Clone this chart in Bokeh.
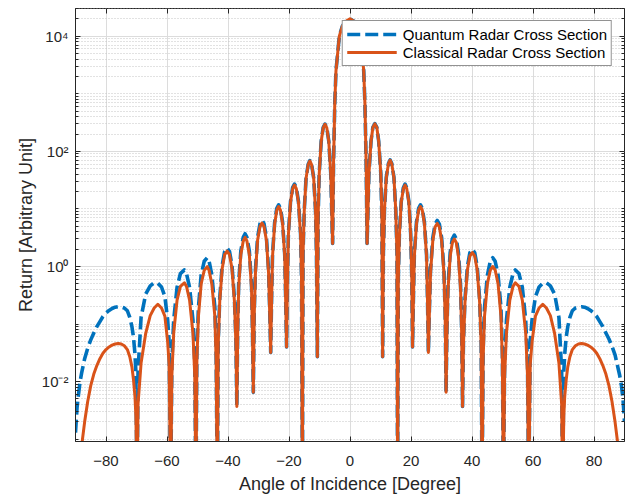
from bokeh.plotting import figure
from bokeh.models import (Range1d, FixedTicker, LinearAxis, LogAxis, Legend,
                          LegendItem, CustomJSTickFormatter)
from bokeh.embed import file_html
from bokeh.resources import INLINE

# ---------------- data ----------------
angle_deg = [
    -90.0, -89.5, -89.1, -88.5, -88.0, -87.0, -86.0, -85.0, -84.0, -83.0, -82.0, -81.0, -80.0,
    -79.0, -78.0, -77.0, -76.0, -75.0, -74.0, -73.0, -72.2, -71.5, -71.0, -70.5, -70.2, -69.8,
    -69.5, -68.5, -67.0, -65.5, -64.2, -63.0, -61.8, -60.7, -59.8, -59.3, -58.8,
    -58.4, -57.8, -56.7, -55.6, -54.3, -53.6, -52.6, -51.5, -50.9, -50.5,
    -50.2, -49.7, -48.8, -47.8, -46.8, -46.2, -45.3, -44.3, -43.9, -43.5,
    -43.2, -42.7, -41.9, -41.1, -40.3, -39.5, -38.7, -37.9, -37.4, -37.1,
    -36.8, -36.5, -35.8, -35.0, -34.4, -33.8, -33.0, -32.3, -32.0, -31.7,
    -31.4, -31.0, -30.3, -29.5, -28.85, -28.2, -27.4, -26.7, -26.3, -26.0,
    -25.7, -25.4, -24.7, -24.0, -23.4, -22.8, -22.1, -21.4, -21.1, -20.8,
    -20.5, -20.2, -19.5, -18.8, -18.2, -17.6, -16.9, -16.2, -15.9, -15.6,
    -15.4, -15.0, -14.4, -13.7, -13.15, -12.6, -11.9, -11.3, -11.0, -10.7,
    -10.45, -10.1, -9.45, -8.8, -8.2, -7.6, -6.95, -6.3, -5.95, -5.7,
    -5.4, -5.0, -4.6, -3.5, -2.5, -1.5, 0.0, 1.5, 2.5, 3.5, 4.5, 4.9, 5.3, 5.6,
    5.85, 6.2, 6.9, 7.5, 8.15, 8.8, 9.4, 10.1, 10.45, 10.7,
    10.95, 11.3, 11.9, 12.6, 13.15, 13.7, 14.4, 15.0, 15.4, 15.6,
    15.85, 16.2, 16.8, 17.5, 18.05, 18.6, 19.3, 19.9, 20.25, 20.5,
    20.8, 21.1, 21.8, 22.5, 23.1, 23.7, 24.4, 25.1, 25.4, 25.7,
    26.0, 26.4, 27.15, 27.9, 28.6, 29.3, 30.05, 30.8, 31.2, 31.5,
    31.8, 32.15, 32.85, 33.55, 34.2, 34.85, 35.55, 36.25, 36.6, 36.9,
    37.2, 37.7, 38.5, 39.3, 40.1, 40.9, 41.7, 42.5, 43.0, 43.3,
    43.65, 44.1, 45.05, 46.0, 46.8, 47.6, 48.55, 49.5, 49.95, 50.3,
    50.7, 51.3, 52.4, 53.45, 54.2, 55.4, 56.5, 57.6, 58.2, 58.6,
    59.1, 59.7, 60.8, 62.0, 63.2, 64.4, 65.7, 67.1, 68.5, 69.4, 69.7,
    70.1, 70.4, 70.9, 71.4, 72.1, 72.9, 73.9, 74.9, 75.9, 76.9, 77.9, 78.9,
    79.9, 80.9, 81.9, 82.9, 83.9, 84.9, 85.9, 86.9, 87.9, 88.4, 89.0, 89.5, 90.0,
]

classical_rcs = [
    1e-5, 5e-5, 1.5e-4, 4e-4, 7.5e-4, 0.002, 0.0045, 0.0085, 0.0135, 0.019, 0.025, 0.031, 0.036,
    0.040, 0.043, 0.045, 0.046, 0.045, 0.042, 0.036, 0.027, 0.018, 0.011, 0.0055, 0.0025, 1e-4,
    0.004, 0.021, 0.068, 0.14, 0.19, 0.22, 0.19, 0.137, 0.05, 0.02, 1e-4,
    0.0127, 0.0705, 0.26, 0.45, 0.52, 0.45, 0.26, 0.0705, 0.0127, 1e-4,
    0.0243, 0.134, 0.495, 0.856, 0.99, 0.856, 0.495, 0.134, 0.0243, 1e-4,
    0.0453, 0.251, 0.925, 1.6, 1.85, 1.6, 0.925, 0.251, 0.0453, 0.0037,
    0.078, 0.434, 1.6, 2.77, 3.2, 2.77, 1.6, 0.434, 0.078, 0.0065,
    0.14, 0.772, 2.85, 4.93, 5.7, 4.93, 2.85, 0.772, 0.14, 0.032,
    0.27, 1.49, 5.5, 9.5, 11.0, 9.5, 5.5, 1.49, 0.27, 0.04,
    0.637, 3.52, 13.0, 22.5, 26.0, 22.5, 13.0, 3.52, 0.637, 1e-4,
    1.67, 9.2, 34.0, 58.8, 68.0, 58.8, 34.0, 9.2, 1.67, 0.027,
    7.2, 40.0, 148.0, 255.0, 295.0, 255.0, 148.0, 40.0, 7.2, 2.5,
    60.0, 660.0, 2500.0, 1.0e4, 1.5e4, 1.8e4, 2.0e4, 1.8e4, 1.5e4, 1.0e4, 2500.0, 660.0, 60.0, 2.5,
    7.35, 40.7, 150.0, 260.0, 300.0, 260.0, 150.0, 40.7, 7.35, 0.027,
    1.72, 9.5, 35.0, 60.5, 70.0, 60.5, 35.0, 9.5, 1.72, 1e-4,
    0.637, 3.52, 13.0, 22.5, 26.0, 22.5, 13.0, 3.52, 0.637, 0.04,
    0.27, 1.49, 5.5, 9.5, 11.0, 9.5, 5.5, 1.49, 0.27, 0.032,
    0.137, 0.759, 2.8, 4.84, 5.6, 4.84, 2.8, 0.759, 0.137, 0.0065,
    0.0735, 0.407, 1.5, 2.6, 3.0, 2.6, 1.5, 0.407, 0.0735, 0.0037,
    0.0429, 0.237, 0.875, 1.51, 1.75, 1.51, 0.875, 0.237, 0.0429, 1e-4,
    0.0245, 0.1355, 0.5, 0.865, 1.0, 0.865, 0.5, 0.1355, 0.0245, 1e-4,
    0.0127, 0.0705, 0.26, 0.45, 0.52, 0.45, 0.26, 0.0705, 0.0127, 1e-4,
    0.02, 0.05, 0.137, 0.19, 0.22, 0.19, 0.14, 0.068, 0.021, 0.004, 1e-4,
    0.0025, 0.0055, 0.011, 0.018, 0.027, 0.036, 0.042, 0.045, 0.046, 0.045, 0.043, 0.040,
    0.036, 0.031, 0.025, 0.019, 0.0135, 0.0085, 0.0045, 0.002, 7.5e-4, 4e-4, 1.5e-4, 5e-5, 1e-5,
]

quantum_rcs = [
    1.3e-3, 3.5e-3, 5.5e-3, 0.010, 0.014, 0.025, 0.038, 0.053, 0.07, 0.09, 0.11, 0.135, 0.155,
    0.172, 0.186, 0.196, 0.20, 0.198, 0.19, 0.17, 0.13, 0.09, 0.06, 0.03, 0.015, 1e-4,
    0.015, 0.13, 0.33, 0.46, 0.52, 0.51, 0.44, 0.30, 0.12, 0.05, 1e-4,
    0.0213, 0.118, 0.435, 0.753, 0.87, 0.753, 0.435, 0.118, 0.0213, 1e-4,
    0.0348, 0.192, 0.71, 1.23, 1.42, 1.23, 0.71, 0.192, 0.0348, 1e-4,
    0.0515, 0.285, 1.05, 1.82, 2.1, 1.82, 1.05, 0.285, 0.0515, 0.0037,
    0.0907, 0.501, 1.85, 3.2, 3.7, 3.2, 1.85, 0.501, 0.0907, 0.0065,
    0.157, 0.867, 3.2, 5.54, 6.4, 5.54, 3.2, 0.867, 0.157, 0.032,
    0.289, 1.6, 5.9, 10.2, 11.8, 10.2, 5.9, 1.6, 0.289, 0.04,
    0.66, 3.66, 13.5, 23.4, 27.0, 23.4, 13.5, 3.66, 0.66, 1e-4,
    1.69, 9.35, 34.5, 59.7, 69.0, 59.7, 34.5, 9.35, 1.69, 0.027,
    7.3, 40.4, 149.0, 258.0, 298.0, 258.0, 149.0, 40.4, 7.3, 2.5,
    60.0, 660.0, 2500.0, 1.0e4, 1.5e4, 1.8e4, 2.0e4, 1.8e4, 1.5e4, 1.0e4, 2500.0, 660.0, 60.0, 2.5,
    7.4, 41.0, 152.0, 262.0, 303.0, 262.0, 152.0, 41.0, 7.4, 0.027,
    1.74, 9.6, 35.5, 61.4, 71.0, 61.4, 35.5, 9.6, 1.74, 1e-4,
    0.66, 3.66, 13.5, 23.4, 27.0, 23.4, 13.5, 3.66, 0.66, 0.04,
    0.289, 1.6, 5.9, 10.2, 11.8, 10.2, 5.9, 1.6, 0.289, 0.032,
    0.154, 0.854, 3.15, 5.45, 6.3, 5.45, 3.15, 0.854, 0.154, 0.0065,
    0.0858, 0.474, 1.75, 3.03, 3.5, 3.03, 1.75, 0.474, 0.0858, 0.0037,
    0.049, 0.271, 1.0, 1.73, 2.0, 1.73, 1.0, 0.271, 0.049, 1e-4,
    0.0348, 0.192, 0.71, 1.23, 1.42, 1.23, 0.71, 0.192, 0.0348, 1e-4,
    0.0213, 0.118, 0.435, 0.753, 0.87, 0.753, 0.435, 0.118, 0.0213, 1e-4,
    0.05, 0.12, 0.30, 0.44, 0.51, 0.52, 0.46, 0.33, 0.13, 0.015, 1e-4,
    0.015, 0.03, 0.06, 0.09, 0.13, 0.17, 0.19, 0.198, 0.20, 0.196, 0.186, 0.172,
    0.155, 0.135, 0.11, 0.09, 0.07, 0.055, 0.041, 0.029, 0.017, 0.013, 8.5e-3, 5e-3, 2e-3,
]

series_labels = ["Quantum Radar Cross Section", "Classical Radar Cross Section"]
x_ticks = [-80, -60, -40, -20, 0, 20, 40, 60, 80]
x_tick_labels = ["\u221280", "\u221260", "\u221240", "\u221220", "0", "20", "40", "60", "80"]
y_ticks = [1e-2, 1.0, 1e2, 1e4]
y_tick_labels = ["10\u207b\u00b2", "10\u2070", "10\u00b2", "10\u2074"]
x_label = "Angle of Incidence [Degree]"
y_label = "Return [Arbitrary Unit]"

assert len(angle_deg) == len(classical_rcs) == len(quantum_rcs)

# minor ticks of the log axis (every mantissa of every decade)
y_minor = [m * 10.0 ** k for k in range(-4, 5) for m in range(1, 10)
           if m * 10.0 ** k not in y_ticks]

# ---------------- figure ----------------
FONT = "Liberation Sans"
AX = "#262626"
BLUE = "#0072BD"
ORANGE = "#D95319"

p = figure(width=625, height=496, y_axis_type="log",
           x_range=Range1d(-90, 90), y_range=Range1d(9.1e-4, 3.03e4),
           output_backend="svg", toolbar_location=None,
           min_border_left=75, min_border_right=1, min_border_top=8,
           min_border_bottom=54)
p.outline_line_color = AX
p.outline_line_width = 1
p.background_fill_color = "white"
p.border_fill_color = "white"

rq = p.line(angle_deg, quantum_rcs, line_color=BLUE, line_width=3.6,
            line_dash="13 5", line_join="round")
rc = p.line(angle_deg, classical_rcs, line_color=ORANGE, line_width=3,
            line_join="round")

# x axis
xa = p.xaxis[0]
xa.ticker = FixedTicker(ticks=x_ticks, minor_ticks=[])
xa.major_label_overrides = dict(zip(x_ticks, x_tick_labels))
xa.axis_label = x_label
# y axis
ya = p.yaxis[0]
ya.ticker = FixedTicker(ticks=y_ticks, minor_ticks=y_minor)
ya.major_label_overrides = dict(zip(y_ticks, y_tick_labels))
ya.axis_label = y_label

for ax in (xa, ya):
    ax.axis_line_color = AX
    ax.major_tick_line_color = AX
    ax.minor_tick_line_color = AX
    ax.major_tick_in = 5
    ax.major_tick_out = 0
    ax.minor_tick_in = 3
    ax.minor_tick_out = 0
    ax.major_label_text_font = FONT
    ax.major_label_text_font_size = "15px"
    ax.major_label_text_color = AX
    ax.axis_label_text_font = FONT
    ax.axis_label_text_font_size = "18px"
    ax.axis_label_text_font_style = "normal"
    ax.axis_label_text_color = AX
xa.minor_tick_line_color = None
xa.major_label_standoff = 14
xa.axis_label_standoff = 5
ya.major_label_standoff = 7
ya.axis_label_standoff = 3

# box ticks on top and right
blank = CustomJSTickFormatter(code="return ''")
top = LinearAxis(ticker=FixedTicker(ticks=x_ticks, minor_ticks=[]), formatter=blank,
                 major_tick_in=5, major_tick_out=0, minor_tick_line_color=None,
                 axis_line_color=None, major_tick_line_color=AX,
                 major_label_standoff=0, major_label_text_font_size="0px")
p.add_layout(top, "above")
right = LogAxis(ticker=FixedTicker(ticks=y_ticks, minor_ticks=y_minor), formatter=blank,
                major_tick_in=5, major_tick_out=0, minor_tick_in=3, minor_tick_out=0,
                axis_line_color=None, major_tick_line_color=AX, minor_tick_line_color=AX,
                major_label_standoff=0, major_label_text_font_size="0px")
p.add_layout(right, "right")

# grids
p.xgrid.grid_line_color = "#dcdcdc"
p.ygrid.grid_line_color = "#dcdcdc"
p.ygrid.minor_grid_line_color = "#c4c4c4"
p.ygrid.minor_grid_line_dash = "1 2"

legend = Legend(items=[LegendItem(label=series_labels[0], renderers=[rq]),
                       LegendItem(label=series_labels[1], renderers=[rc])],
                location="top_right", margin=12, padding=4, spacing=0,
                glyph_width=50, glyph_height=18, label_height=18,
                label_standoff=6,
                label_text_font=FONT, label_text_font_size="15px",
                label_text_color="black",
                border_line_color=AX, border_line_width=1,
                background_fill_color="white", background_fill_alpha=1.0)
p.add_layout(legend)

open("out.html", "w").write(file_html(p, INLINE))
